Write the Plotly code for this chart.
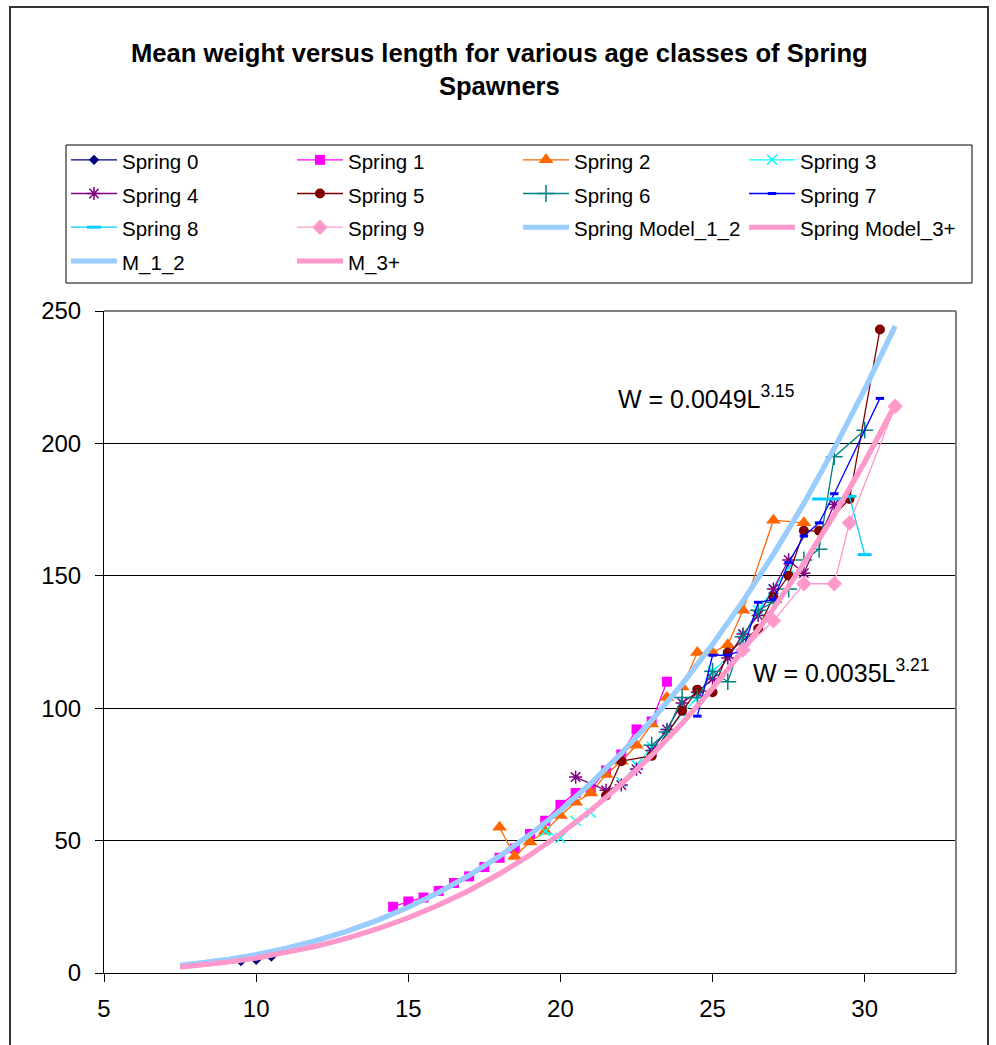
import plotly.graph_objects as go

# ---------------- data ----------------
s0_x = [9.5, 10, 10.5]
s0_y = [4.5, 5.0, 6.2]

s1_x = [14.5, 15, 15.5, 16, 16.5, 17, 17.5, 18, 18.5, 19, 19.5, 20, 20.5, 21, 21.5, 22, 22.5, 23, 23.5]
s1_y = [25, 27, 28.5, 31, 34, 36.5, 40, 43.5, 47, 52.5, 57.5, 63.5, 68, 69.5, 76.5, 82.5, 92, 95, 110]

s2_x = [18, 18.5, 19, 19.5, 20, 20.5, 21, 21.5, 22, 22.5, 23, 23.5, 24, 24.5, 25, 25.5, 26, 27, 28]
s2_y = [55, 44, 49.5, 53.5, 59.5, 64.5, 68, 75, 80, 86, 94, 104, 108, 121, 121, 124, 137, 171, 170]

s3_x = [19.5, 20, 20.5, 21, 22, 22.5, 23, 23.5, 24, 24.5, 25, 25.5, 26, 26.5, 27, 27.5]
s3_y = [53.5, 51, 57.5, 60.5, 72, 78.5, 85.5, 90.5, 98, 104, 114, 119, 127, 137, 145, 153]

s4_x = [20.5, 21.5, 22, 22.5, 23, 23.5, 24, 24.5, 25, 25.5, 26, 26.5, 27, 27.5, 28, 29]
s4_y = [74, 69, 71, 77, 84, 92, 102, 106, 111, 119, 128, 135, 145, 156, 151, 177]

s5_x = [21.5, 22, 23, 24, 24.5, 25, 25.5, 26.5, 27, 27.5, 28, 28.5, 29.5, 30.5]
s5_y = [67, 80, 82, 99, 107, 106, 121, 130, 142, 150, 167, 167, 179, 243]

s6_x = [23, 23.5, 24, 24.5, 25, 25.5, 26, 26.5, 27, 27.5, 28, 28.5, 29, 30]
s6_y = [86, 91, 104, 104, 114, 110, 127, 137, 140, 145, 156, 160, 195, 205]

s7_x = [24.5, 25, 25.5, 26, 26.5, 27, 27.5, 28, 28.5, 29, 30.5]
s7_y = [97, 120, 120, 122, 140, 141, 155, 165, 170, 181, 217]

s8_x = [28.5, 29, 29.5, 30]
s8_y = [179, 179, 180, 158]

s9_x = [26, 27, 28, 29, 29.5, 31]
s9_y = [122, 133, 147, 147, 170, 214]

model_x = [7.5, 8, 9, 10, 11, 12, 13, 14, 15, 16, 17, 18, 19, 20, 21, 22, 23, 24, 25, 26, 27, 28, 29, 30, 31]
model12_y = [2.80, 3.43, 4.97, 6.92, 9.35, 12.29, 15.81, 19.98, 24.83, 30.42, 36.83, 44.10, 52.27, 61.43,
             71.64, 82.96, 95.44, 109.1, 124.1, 140.4, 158.1, 177.3, 198.1, 220.4, 244.3]
model3_y = [2.25, 2.77, 4.05, 5.68, 7.71, 10.19, 13.18, 16.72, 20.86, 25.66, 31.18, 37.46, 44.55, 52.52,
            61.42, 71.31, 82.27, 94.32, 107.5, 121.9, 137.6, 154.7, 173.1, 193.0, 214.5]

eq1_text = "W = 0.0049L<sup>3.15</sup>"
eq2_text = "W = 0.0035L<sup>3.21</sup>"
title_text = "<b>Mean weight versus length for various age classes of Spring<br>Spawners</b>"

# ---------------- figure ----------------
FONT = "Liberation Sans, Arial, sans-serif"
LEG_TXT = '<span style="font-size:20.5px">%s</span>'
fig = go.Figure()

def series(name, x, y, color, symbol, size, mlw=0, lw=1.3):
    fig.add_trace(go.Scatter(
        x=x, y=y, name=LEG_TXT % name, mode="lines+markers",
        line=dict(color=color, width=lw),
        marker=dict(symbol=symbol, size=size, color=color, line=dict(color=color, width=mlw)),
    ))

series("Spring 0", s0_x, s0_y, "#000080", "diamond", 8)
series("Spring 1", s1_x, s1_y, "#FF00FF", "square", 10)
series("Spring 2", s2_x, s2_y, "#FF6600", "triangle-up", 13)
series("Spring 3", s3_x, s3_y, "#00FFFF", "x-thin-open", 10, mlw=1.5)
series("Spring 4", s4_x, s4_y, "#800080", "asterisk-open", 11, mlw=1.5)
series("Spring 5", s5_x, s5_y, "#800000", "circle", 10)
series("Spring 6", s6_x, s6_y, "#008080", "cross-thin-open", 12, mlw=1.5)
series("Spring 7", s7_x, s7_y, "#0000FF", "line-ew-open", 6, mlw=3)
series("Spring 8", s8_x, s8_y, "#00CCFF", "line-ew-open", 10, mlw=3)
series("Spring 9", s9_x, s9_y, "#FF99CC", "diamond", 12)

for name, yv, col in [("Spring Model_1_2", model12_y, "#99CCFF"),
                      ("Spring Model_3+", model3_y, "#FF99CC"),
                      ("M_1_2", model12_y, "#99CCFF"),
                      ("M_3+", model3_y, "#FF99CC")]:
    fig.add_trace(go.Scatter(x=model_x, y=yv, name=LEG_TXT % name, mode="lines",
                             line=dict(color=col, width=5)))

W, H = 996, 1045
L, R, T, B = 104, 40, 311, 72
pw, ph = W - L - R, H - T - B

def px(xp):
    return (xp - L) / pw

def py(yp):
    return (H - B - yp) / ph

fig.update_layout(
    width=W, height=H,
    margin=dict(l=L, r=R, t=T, b=B),
    paper_bgcolor="white", plot_bgcolor="white",
    font=dict(family=FONT, color="black", size=20),
    showlegend=True,
    legend=dict(
        orientation="h", x=px(66), y=py(138), xanchor="left", yanchor="top",
        borderwidth=0, bgcolor="rgba(0,0,0,0)",
        entrywidth=165, entrywidthmode="pixels",
        font=dict(family=FONT, size=23.6, color="black"),
        itemwidth=46,
    ),
    xaxis=dict(
        range=[5, 33], tick0=5, dtick=5, showgrid=False, zeroline=False,
        showline=True, linecolor="black", linewidth=1,
        ticks="outside", ticklen=8, tickcolor="black",
        tickfont=dict(family=FONT, size=24, color="black"),
        ticklabelstandoff=6,
    ),
    yaxis=dict(
        range=[0, 250], tick0=0, dtick=50, showgrid=True, gridcolor="#000000", gridwidth=1,
        zeroline=False, showline=True, linecolor="black", linewidth=1,
        ticks="outside", ticklen=8, tickcolor="black",
        tickfont=dict(family=FONT, size=24, color="black"),
        ticklabelstandoff=9,
    ),
    shapes=[
        dict(type="rect", xref="paper", yref="paper", x0=px(10), x1=px(988), y0=py(1060), y1=py(7),
             line=dict(color="#333333", width=2), layer="below"),
        dict(type="rect", xref="paper", yref="paper", x0=px(66), x1=px(972), y0=py(283), y1=py(145),
             line=dict(color="black", width=1), layer="below"),
        dict(type="line", xref="paper", yref="paper", x0=0, x1=1, y0=1, y1=1,
             line=dict(color="#808080", width=2)),
        dict(type="line", xref="paper", yref="paper", x0=1, x1=1, y0=0, y1=1,
             line=dict(color="#808080", width=2)),
    ],
    annotations=[
        dict(text=title_text, xref="paper", yref="paper", x=px(499), y=py(69),
             xanchor="center", yanchor="middle", showarrow=False,
             font=dict(family=FONT, size=25.6, color="black")),
        dict(text=eq1_text, xref="x", yref="y", x=21.82, y=217.4, xanchor="left", yanchor="middle",
             showarrow=False, font=dict(family=FONT, size=25, color="black")),
        dict(text=eq2_text, xref="x", yref="y", x=26.25, y=114.1, xanchor="left", yanchor="middle",
             showarrow=False, font=dict(family=FONT, size=25, color="black")),
    ],
)

fig.write_html("out.html", config={"displayModeBar": False},
               post_script="document.body.style.margin='0px';document.body.style.overflow='hidden';")
